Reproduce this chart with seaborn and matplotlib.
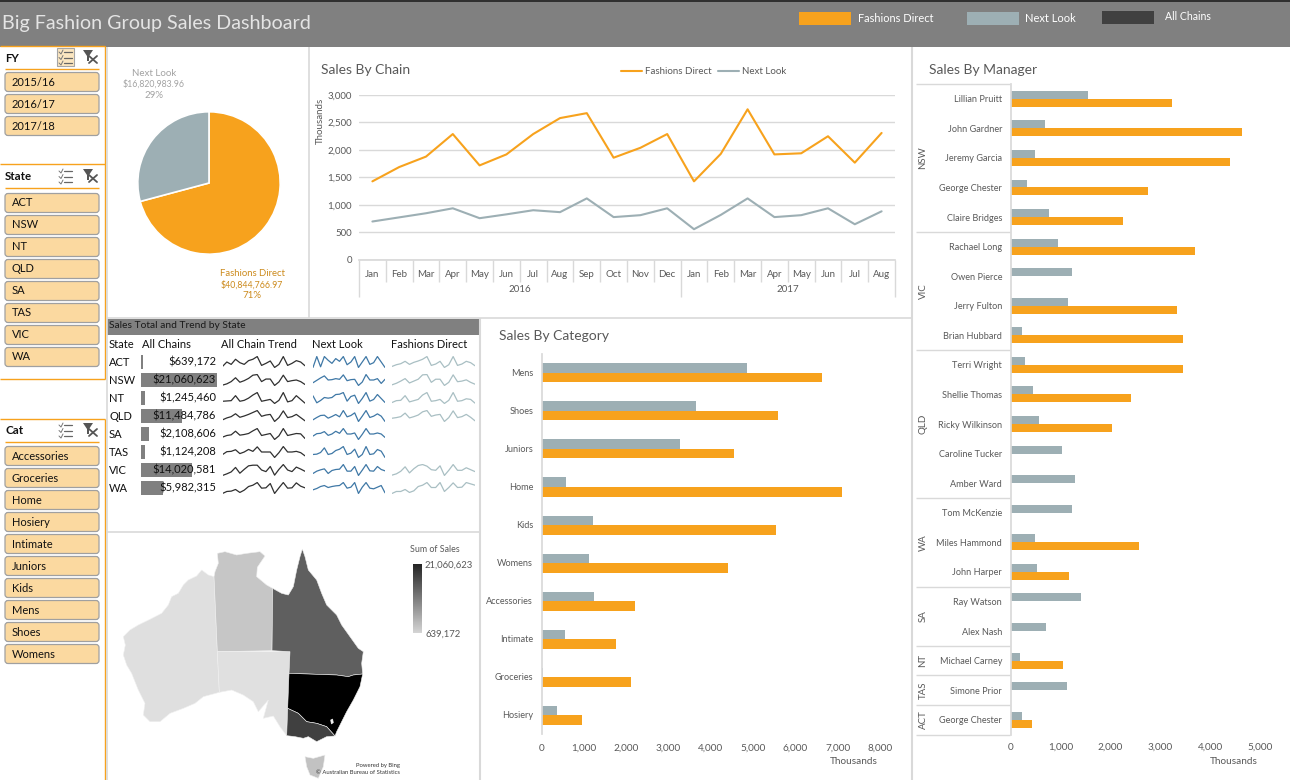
import matplotlib
matplotlib.use('Agg')  # no display here

import matplotlib.pyplot as plt
import numpy as np
import pandas as pd
import seaborn as sns
from matplotlib.patches import FancyBboxPatch, Polygon, Rectangle

# -------------------------
# Data
# -------------------------

ORANGE = '#F7A21D'
SLATE = '#9DAFB4'
INK = '#595959'
RULE = '#D9D9D9'
HEADER = '#808080'

chain_names = ['Fashions Direct', 'Next Look']
pie_values = [40844766.97, 16820983.96]

months = ['Jan', 'Feb', 'Mar', 'Apr', 'May', 'Jun', 'Jul', 'Aug', 'Sep', 'Oct', 'Nov', 'Dec',
          'Jan', 'Feb', 'Mar', 'Apr', 'May', 'Jun', 'Jul', 'Aug']
fashions_monthly = [1430, 1690, 1880, 2290, 1720, 1920, 2290, 2580, 2670, 1860,
                    2040, 2290, 1430, 1930, 2740, 1920, 1940, 2250, 1770, 2310]
next_monthly = [700, 775, 850, 940, 760, 830, 905, 870, 1120, 780,
                815, 940, 560, 820, 1120, 780, 815, 940, 650, 885]

categories = ['Mens', 'Shoes', 'Juniors', 'Home', 'Kids', 'Womens', 'Accessories', 'Intimate', 'Groceries', 'Hosiery']
cat_next = [4850, 3650, 3270, 575, 1213, 1120, 1236, 550, 30, 362]
cat_fashions = [6620, 5590, 4545, 7100, 5540, 4400, 2205, 1755, 2110, 950]

managers = ['Lillian Pruitt', 'John Gardner', 'Jeremy Garcia', 'George Chester', 'Claire Bridges',
            'Rachael Long', 'Owen Pierce', 'Jerry Fulton', 'Brian Hubbard',
            'Terri Wright', 'Shellie Thomas', 'Ricky Wilkinson', 'Caroline Tucker', 'Amber Ward',
            'Tom McKenzie', 'Miles Hammond', 'John Harper', 'Ray Watson', 'Alex Nash',
            'Michael Carney', 'Simone Prior', 'George Chester']
mgr_next = [1547, 687, 487, 327, 767, 947, 1227, 1147, 227, 287, 447,
            567, 1027, 1287, 1227, 487, 527, 1407, 707, 187, 1127, 227]
mgr_fashions = [3227, 4627, 4387, 2747, 2247, 3687, 0, 3327, 3447, 3447, 2407,
                2027, 0, 0, 0, 2567, 1167, 0, 0, 1047, 0, 427]
mgr_groups = ['NSW', 'VIC', 'QLD', 'WA', 'SA', 'NT', 'TAS', 'ACT']
mgr_group_sizes = [5, 4, 5, 3, 2, 1, 1, 1]

states = ['ACT', 'NSW', 'NT', 'QLD', 'SA', 'TAS', 'VIC', 'WA']
state_sales = [639172, 21060623, 1245460, 11484786, 2108606, 1124208, 14020581, 5982315]

# sparkline heights, relative units per state
spark_all = {
    'ACT': [7, 20, 13, 28, 18, 13, 24, 28, 36, 10, 16, 23, 4, 13, 36, 10, 16, 24, 20, 9],
    'NSW': [1, 5, 12, 24, 10, 15, 22, 32, 34, 12, 20, 20, 0, 11, 32, 12, 15, 17, 12, 3],
    'NT': [7, 8, 9, 25, 7, 10, 17, 27, 35, 7, 10, 13, 0, 10, 35, 5, 9, 25, 13, 1],
    'QLD': [5, 11, 15, 24, 13, 17, 22, 28, 34, 16, 20, 22, 0, 12, 33, 12, 15, 22, 12, 2],
    'SA': [7, 12, 14, 25, 13, 15, 18, 26, 33, 12, 15, 18, 0, 11, 33, 12, 15, 18, 17, 3],
    'TAS': [9, 18, 19, 24, 12, 17, 25, 19, 33, 17, 17, 17, 0, 15, 34, 17, 17, 19, 15, 5],
    'VIC': [0, 5, 11, 25, 7, 19, 30, 32, 32, 17, 12, 28, 1, 19, 34, 17, 12, 26, 20, 13],
    'WA': [0, 6, 7, 12, 3, 10, 21, 25, 33, 16, 17, 30, 0, 17, 33, 16, 17, 32, 22, 17],
}
spark_next = {
    'ACT': [0, 32, 2, 32, 21, 12, 26, 18, 32, 8, 16, 32, 0, 16, 32, 9, 14, 32, 16, 0],
    'NSW': [8, 15, 22, 28, 16, 17, 20, 18, 31, 14, 17, 18, 0, 10, 32, 16, 16, 20, 6, 18],
    'NT': [23, 2, 9, 18, 16, 18, 27, 28, 33, 7, 21, 25, 0, 15, 33, 7, 12, 27, 15, 3],
    'QLD': [5, 12, 18, 19, 10, 15, 21, 14, 33, 14, 18, 26, 0, 16, 33, 12, 16, 23, 16, 0],
    'SA': [10, 17, 18, 23, 12, 16, 24, 18, 32, 16, 16, 19, 0, 15, 32, 16, 16, 19, 16, 6],
    'TAS': [9, 10, 15, 29, 9, 12, 21, 25, 33, 9, 13, 25, 0, 9, 33, 9, 11, 24, 19, 0],
    'VIC': [6, 13, 17, 20, 6, 15, 18, 19, 33, 13, 13, 27, 0, 16, 33, 14, 13, 27, 18, 14],
    'WA': [11, 15, 21, 24, 18, 21, 23, 24, 33, 16, 19, 33, 0, 19, 33, 16, 14, 19, 24, 2],
}
spark_fashions = {
    'ACT': [3, 8, 11, 18, 9, 15, 19, 24, 32, 6, 10, 18, 0, 8, 32, 6, 10, 18, 14, 5],
    'NSW': [2, 7, 14, 22, 8, 14, 20, 34, 35, 10, 20, 20, 0, 10, 34, 12, 14, 18, 10, 4],
    'NT': [3, 9, 10, 25, 5, 9, 13, 27, 35, 7, 9, 13, 0, 10, 35, 7, 9, 15, 13, 1],
    'QLD': [10, 12, 15, 26, 11, 15, 20, 30, 34, 16, 20, 22, 0, 12, 33, 12, 15, 22, 13, 2],
    'VIC': [1, 5, 13, 27, 8, 21, 31, 34, 29, 18, 16, 30, 0, 16, 34, 16, 16, 24, 18, 12],
    'WA': [0, 6, 6, 12, 3, 8, 21, 25, 33, 18, 18, 33, 6, 18, 32, 18, 19, 33, 29, 25],
}

# state outlines, in map units
map_wa = [(342, 140), (325, 135), (305, 120), (290, 138), (265, 150), (250, 165), (235, 190), (215, 200),
          (205, 225), (185, 250), (150, 268), (115, 285), (90, 300), (70, 320), (76, 345), (70, 375), (80, 405),
          (95, 430), (115, 480), (135, 520), (130, 555), (150, 575), (180, 575), (210, 550), (250, 535),
          (285, 520), (310, 500), (358, 487), (352, 365)]
map_nt = [(342, 140), (345, 125), (355, 100), (352, 70), (375, 65), (410, 75), (440, 70), (480, 65),
          (495, 78), (472, 112), (470, 140), (500, 165), (518, 175), (516, 362), (352, 365)]
map_qld = [(518, 175), (545, 190), (565, 195), (580, 170), (590, 120), (600, 80), (607, 57), (615, 80),
           (625, 120), (650, 150), (665, 190), (680, 225), (710, 255), (725, 285), (750, 320), (775, 355),
           (790, 365), (785, 400), (788, 432), (760, 435), (745, 440), (710, 435), (567, 430), (570, 365),
           (516, 362)]
map_sa = [(352, 365), (570, 365), (563, 535), (560, 617), (540, 590), (520, 558), (490, 565), (505, 510),
          (475, 545), (460, 515), (430, 495), (395, 480), (358, 487)]
map_nsw = [(567, 430), (710, 435), (745, 440), (760, 435), (788, 432), (780, 470), (760, 510), (740, 545),
           (725, 575), (710, 605), (705, 618), (680, 590), (650, 580), (620, 575), (595, 550), (563, 535)]
map_vic = [(563, 535), (595, 550), (620, 575), (650, 580), (680, 590), (705, 618), (680, 620), (650, 635),
           (625, 620), (610, 625), (585, 620), (560, 617)]
map_tas = [(615, 680), (640, 685), (675, 675), (670, 710), (655, 745), (630, 735), (620, 710)]
map_act = [(692, 570), (698, 567), (700, 578), (694, 582)]
map_shapes = [map_wa, map_nt, map_sa, map_qld, map_nsw, map_vic, map_tas, map_act]
map_shades = ['#DFDFDF', '#C6C6C6', '#E0E0E0', '#5F5F5F', '#000000', '#404040', '#C2C2C2', '#F2F2F2']

# -------------------------
# Figure and pixel helpers
# -------------------------

sns.set_theme(style='white')
plt.rcParams['font.family'] = ['Lato', 'DejaVu Sans']

W, H = 1290, 780
fig = plt.figure(figsize=(W / 100, H / 100), dpi=100, facecolor='white')


def px_axes(x0, y0, x1, y1, zorder=2):
    ax = fig.add_axes([x0 / W, 1 - y1 / H, (x1 - x0) / W, (y1 - y0) / H], zorder=zorder)
    ax.patch.set_alpha(0)
    return ax


bg = px_axes(0, 0, W, H, zorder=0)
fg = px_axes(0, 0, W, H, zorder=10)
for a in (bg, fg):
    a.set_xlim(0, W)
    a.set_ylim(H, 0)
    a.axis('off')


def label(x, y, s, size=7.6, color=INK, ha='left', va='center', **kw):
    fg.text(x, y, s, fontsize=size, color=color, ha=ha, va=va, **kw)


def hline(y, x0, x1, color=RULE, lw=1.0):
    bg.plot([x0, x1], [y, y], color=color, lw=lw, solid_capstyle='butt')


def vline(x, y0, y1, color=RULE, lw=1.0):
    bg.plot([x, x], [y0, y1], color=color, lw=lw, solid_capstyle='butt')


# -------------------------
# Header
# -------------------------

bg.add_patch(Rectangle((0, 0), W, 47, color=HEADER, lw=0))
bg.add_patch(Rectangle((0, 0), W, 2, color='#303030', lw=0))
label(2, 24, 'Big Fashion Group Sales Dashboard', size=14.2, color='#E4E4E4')
bg.add_patch(Rectangle((799, 12), 52, 13, color=ORANGE, lw=0))
bg.add_patch(Rectangle((967, 12), 52, 13, color=SLATE, lw=0))
bg.add_patch(Rectangle((1102, 11), 52, 13, color='#404040', lw=0))
label(858, 18, 'Fashions Direct', size=7.9, color='white')
label(1025, 18, 'Next Look', size=8, color='white')
label(1165, 17, 'All Chains', size=7.6, color='white')

# -------------------------
# Slicers
# -------------------------


def slicer(title, items, y_title, y_first, active=False):
    label(5, y_title, title, size=8.3, color='#111111', fontweight='bold')
    hline(y_title + 11, 5, 99, color=ORANGE, lw=1.0)
    if active:
        bg.add_patch(Rectangle((56.5, y_title - 10), 17, 18, fc='#FBE6C0', ec='#A6A6A6', lw=0.8))
    for k in range(3):
        yy = y_title - 6 + k * 5.5
        fg.plot([59, 61, 63], [yy, yy + 2, yy - 2], color='#777777', lw=0.7)
        fg.plot([64, 72], [yy, yy], color='#666666', lw=0.9)
    bg.add_patch(Polygon([(83, y_title - 8), (93, y_title - 8), (89, y_title - 2), (89, y_title + 3), (87, y_title + 3), (87, y_title - 2)],
                         color='#555555', lw=0))
    fg.plot([89, 97], [y_title - 2, y_title + 5], color='#555555', lw=1.3)
    fg.plot([89, 97], [y_title + 5, y_title - 2], color='#555555', lw=1.3)
    for i, item in enumerate(items):
        yc = y_first + i * 22
        bg.add_patch(FancyBboxPatch((6, yc - 8.5), 92, 17, boxstyle='round,pad=1,rounding_size=3',
                                    fc='#FBD9A0', ec='#A0A0A0', lw=0.9))
        label(12, yc, item, size=8, color='#111111')


slicer('FY', ['2015/16', '2016/17', '2017/18'], 58, 82, active=True)
slicer('State', states, 177, 203)
slicer('Cat', sorted(categories), 431, 456)

hline(46, 0, 105, color=ORANGE)
hline(164, 0, 105, color=ORANGE)
hline(379, 0, 105, color=ORANGE)
hline(419, 0, 105, color=ORANGE)
vline(105, 46, 379, color=ORANGE)
vline(105, 419, 780, color=ORANGE)

# panel borders
vline(107, 47, 780, lw=1.2)
vline(309, 47, 318, lw=1.2)
hline(318, 107, 912, lw=1.2)
hline(532, 107, 480, lw=1.2)
vline(480, 318, 780, lw=1.5)
vline(912, 47, 780, lw=1.5)

# -------------------------
# Pie
# -------------------------

ax = px_axes(129, 103, 289, 263)
ax.pie(pie_values, colors=[ORANGE, SLATE], startangle=90, counterclock=False, radius=0.89,
       wedgeprops={'edgecolor': 'white', 'linewidth': 1.2})
ax.set_xlim(-1, 1)
ax.set_ylim(-1, 1)
for i, (t, sz) in enumerate(zip(['Next Look', '$16,820,983.96', '29%'], [7, 6.3, 7])):
    label(154, 73 + i * 11, t, size=sz, color='#A3A3A3', ha='center')
for i, (t, sz) in enumerate(zip(['Fashions Direct', '$40,844,766.97', '71%'], [6.8, 6.3, 7])):
    label(252, 274 + i * 11, t, size=sz, color='#CC8A1C', ha='center')

# -------------------------
# Sales By Chain
# -------------------------

chain_df = pd.DataFrame({
    'idx': list(range(20)) * 2,
    'sales': fashions_monthly + next_monthly,
    'chain': ['Fashions Direct'] * 20 + ['Next Look'] * 20,
})
ax = px_axes(359, 95, 895, 260)
sns.lineplot(data=chain_df, x='idx', y='sales', hue='chain', hue_order=chain_names,
             palette=[ORANGE, SLATE], lw=1.5, legend=False, ax=ax)
ax.set_xlim(-0.5, 19.5)
ax.set_ylim(0, 3000)
ax.set_yticks(range(0, 3001, 500))
ax.set_yticklabels([f'{v:,}' for v in range(0, 3001, 500)], fontsize=7, color=INK)
ax.set_xticks(range(20))
ax.set_xticklabels(months, fontsize=7, color=INK)
ax.tick_params(axis='x', length=0, pad=7)
ax.tick_params(axis='y', length=0, pad=5)
ax.set_xlabel('')
ax.set_ylabel('')
ax.yaxis.grid(True, color=RULE, lw=1)
sns.despine(ax=ax, left=True)
ax.spines['bottom'].set_color(RULE)
step = (895 - 359) / 20
for i in range(21):
    vline(359 + i * step, 260, 297 if i in (0, 12, 20) else 282)
label(520, 289, '2016', size=7, ha='center')
label(788, 289, '2017', size=7, ha='center')
label(321, 69.5, 'Sales By Chain', size=10)
label(320, 121, 'Thousands', size=7, rotation=90, ha='center')
fg.plot([621, 642], [71, 71], color=ORANGE, lw=1.5)
label(645, 71, 'Fashions Direct', size=7)
fg.plot([718, 739], [71, 71], color=SLATE, lw=1.5)
label(742, 71, 'Next Look', size=7)

# -------------------------
# Sales Total and Trend by State
# -------------------------

bg.add_patch(Rectangle((107, 319), 373, 16, color=HEADER, lw=0))
label(109, 326, 'Sales Total and Trend by State', size=7.4, color='#1A1A1A')
for x, t in [(109, 'State'), (142, 'All Chains'), (221, 'All Chain Trend'), (312, 'Next Look'), (391, 'Fashions Direct')]:
    label(x, 344, t, size=8, color='#111111')

ax = px_axes(141, 353, 217, 497, zorder=1)
sns.barplot(x=state_sales, y=states, order=states, color=HEADER, saturation=1, width=0.78, linewidth=0, ax=ax)
ax.set_xlim(0, max(state_sales))
ax.axis('off')

for r, s in enumerate(states):
    yc = 362 + r * 18
    label(109, yc, s, size=8, color='#111111')
    label(216, yc, f'${state_sales[r]:,}', size=8, color='#111111', ha='right')
    for (x0, x1), series, col, lw in [((222.5, 305), spark_all, '#303030', 0.9),
                                      ((313, 385), spark_next, '#3F78A6', 0.9),
                                      ((392, 475), spark_fashions, '#A9BFC3', 0.9)]:
        if s not in series:
            continue
        sp = px_axes(x0, yc - 6, x1, yc + 6)
        sns.lineplot(x=list(range(20)), y=series[s], color=col, lw=lw, ax=sp)
        sp.set_xlim(0, 19)
        sp.axis('off')

# -------------------------
# Map
# -------------------------

ax = px_axes(100, 530, 485, 780)
ax.set_xlim(0, 1155)
ax.set_ylim(750, 0)
ax.axis('off')
for shape, shade in zip(map_shapes, map_shades):
    ax.add_patch(Polygon(shape, closed=True, fc=shade, ec='#F0F0F0', lw=0.4))

cb = px_axes(413, 564, 422, 633)
cb.imshow(np.linspace(0, 1, 64).reshape(-1, 1), aspect='auto', cmap=sns.dark_palette('#D4D4D4', as_cmap=True))
cb.axis('off')
label(410, 550, 'Sum of Sales', size=6.4)
label(425, 565, '21,060,623', size=6.8)
label(425, 634, '639,172', size=6.8)
label(400, 765, 'Powered by Bing', size=4.2, color='#333333', ha='right')
label(400, 772, '© Australian Bureau of Statistics', size=4.2, color='#333333', ha='right')

# -------------------------
# Sales By Category
# -------------------------

cat_df = pd.DataFrame({
    'category': categories * 2,
    'sales': cat_next + cat_fashions,
    'chain': ['Next Look'] * 10 + ['Fashions Direct'] * 10,
})
ax = px_axes(541.5, 354, 880, 734)
sns.barplot(data=cat_df, x='sales', y='category', hue='chain', order=categories,
            hue_order=['Next Look', 'Fashions Direct'], palette=[SLATE, ORANGE],
            saturation=1, width=0.5, errorbar=None, legend=False, linewidth=0, ax=ax)
ax.set_xlim(0, 8000)
ax.set_xticks(range(0, 8001, 1000))
ax.set_xticklabels([f'{v:,}' for v in range(0, 8001, 1000)], fontsize=7.2, color=INK)
ax.tick_params(axis='x', length=0, pad=7)
ax.tick_params(axis='y', length=0, pad=6, labelsize=6.6, labelcolor=INK)
ax.set_xlabel('')
ax.set_ylabel('')
sns.despine(ax=ax, bottom=True)
ax.spines['left'].set_color(RULE)
label(499, 335.5, 'Sales By Category', size=10)
label(854, 762, 'Thousands', size=7.2, ha='center')

# -------------------------
# Sales By Manager
# -------------------------

rows = [str(i) for i in range(len(managers))]
mgr_df = pd.DataFrame({
    'row': rows * 2,
    'sales': mgr_next + mgr_fashions,
    'chain': ['Next Look'] * len(rows) + ['Fashions Direct'] * len(rows),
})
ax = px_axes(1010.5, 84, 1260.5, 734.5)
sns.barplot(data=mgr_df, x='sales', y='row', hue='chain', order=rows,
            hue_order=['Next Look', 'Fashions Direct'], palette=[SLATE, ORANGE],
            saturation=1, width=0.54, errorbar=None, legend=False, linewidth=0, ax=ax)
ax.set_xlim(0, 5000)
ax.set_xticks(range(0, 5001, 1000))
ax.set_xticklabels([f'{v:,}' for v in range(0, 5001, 1000)], fontsize=7.2, color=INK)
ax.set_yticks(range(len(managers)))
ax.set_yticklabels(managers, fontsize=6.6, color=INK)
ax.tick_params(axis='x', length=0, pad=6)
ax.tick_params(axis='y', length=0, pad=6)
ax.set_xlabel('')
ax.set_ylabel('')
sns.despine(ax=ax, bottom=True)
ax.spines['left'].set_color(RULE)
label(929, 69.5, 'Sales By Manager', size=10)
label(1234, 761, 'Thousands', size=7.2, ha='center')

row_h = (734.5 - 84) / len(managers)
done = 0
hline(84, 916, 1010)
for grp, n in zip(mgr_groups, mgr_group_sizes):
    label(923, 84 + (done + n / 2) * row_h, grp, size=7, rotation=90, ha='center')
    done += n
    hline(84 + done * row_h, 916, 1010)

fig.savefig('out.png', dpi=100)
plt.close(fig)
